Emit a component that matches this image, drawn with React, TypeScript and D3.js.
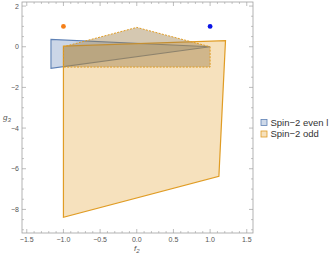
import React from 'react';
import * as d3 from 'd3';

// region vertices (f2, g3)
const evenL: [number, number][] = [[-1.17, 0.36], [-1.17, -1.06], [1.0, 0.0]];
const odd: [number, number][] = [[-1.0, 0.03], [1.21, 0.3], [1.12, -6.37], [-1.0, -8.39]];
const oddCap: [number, number][] = [[-1.0, -1.0], [-1.0, 0.0], [0.0, 0.95], [1.0, 0.0], [1.0, -1.0]];
const dots = [
  { x: -1, y: 1, color: '#f57f17' },
  { x: 1, y: 1, color: '#0a14e6' },
];
const xTicks = [-1.5, -1.0, -0.5, 0.0, 0.5, 1.0, 1.5];
const yTicks = [2, 0, -2, -4, -6, -8];
const legend = [
  { name: 'Spin\u22122 even l', stroke: '#5E81B5', fill: '#5E81B5' },
  { name: 'Spin\u22122 odd', stroke: '#E09C24', fill: '#E09C24' },
];

const W = 332, H = 258;
const left = 22, right = 253, top = 2, bottom = 233;

const fmt = (v: number, d: number) => v.toFixed(d).replace('-', '\u2212');

export default function App() {
  const x = d3.scaleLinear().domain([-1.565, 1.585]).range([left, right]);
  const y = d3.scaleLinear().domain([2.2, -9.16]).range([top, bottom]);
  const line = d3.line<[number, number]>().x(d => x(d[0])).y(d => y(d[1])).curve(d3.curveLinearClosed);

  const xMinor = d3.range(-15, 16).map(i => i / 10).filter(v => !xTicks.some(t => Math.abs(t - v) < 1e-6));
  const yMinor = d3.range(-18, 5).map(i => i / 2).filter(v => !yTicks.includes(v));
  const frame = '#a0a0a0';
  const tickText = '#555';

  return (
    <svg width={W} height={H} style={{ position: 'absolute', left: 0, top: 0 }} fontFamily="Liberation Sans, Arial, sans-serif">
      <rect x={0} y={0} width={W} height={H} fill="#fff" />
      {/* regions */}
      <path d={line(evenL) || ''} fill="#5E81B5" fillOpacity={0.32} stroke="#5E81B5" strokeWidth={1.1} />
      <path d={line(odd) || ''} fill="#E09C24" fillOpacity={0.3} stroke="#E09C24" strokeWidth={1.2} />
      <path d={line(oddCap) || ''} fill="#9a7c45" fillOpacity={0.42} stroke="#E09C24" strokeWidth={1} strokeDasharray="2,1.3" />
      {dots.map((p, i) => (
        <circle key={i} cx={x(p.x)} cy={y(p.y)} r={2.4} fill={p.color} />
      ))}
      {/* frame */}
      <rect x={left} y={top} width={right - left} height={bottom - top} fill="none" stroke={frame} strokeWidth={0.8} />
      {xTicks.map(t => (
        <g key={'xt' + t}>
          <line x1={x(t)} x2={x(t)} y1={bottom} y2={bottom - 4} stroke={frame} strokeWidth={0.7} />
          <line x1={x(t)} x2={x(t)} y1={top} y2={top + 4} stroke={frame} strokeWidth={0.7} />
          <text x={x(t)} y={bottom + 9} fontSize={7} fill={tickText} textAnchor="middle">{fmt(t, 1)}</text>
        </g>
      ))}
      {xMinor.map(t => (
        <g key={'xm' + t}>
          <line x1={x(t)} x2={x(t)} y1={bottom} y2={bottom - 2} stroke={frame} strokeWidth={0.6} />
          <line x1={x(t)} x2={x(t)} y1={top} y2={top + 2} stroke={frame} strokeWidth={0.6} />
        </g>
      ))}
      {yTicks.map(t => (
        <g key={'yt' + t}>
          <line x1={left} x2={left + 4} y1={y(t)} y2={y(t)} stroke={frame} strokeWidth={0.7} />
          <line x1={right} x2={right - 4} y1={y(t)} y2={y(t)} stroke={frame} strokeWidth={0.7} />
          <text x={left - 3} y={y(t) + 2.5} fontSize={7} fill={tickText} textAnchor="end">{fmt(t, 0)}</text>
        </g>
      ))}
      {yMinor.map(t => (
        <g key={'ym' + t}>
          <line x1={left} x2={left + 2} y1={y(t)} y2={y(t)} stroke={frame} strokeWidth={0.6} />
          <line x1={right} x2={right - 2} y1={y(t)} y2={y(t)} stroke={frame} strokeWidth={0.6} />
        </g>
      ))}
      {/* axis labels */}
      <text x={x(0)} y={251} fontSize={8} fill={tickText} textAnchor="middle" fontStyle="italic">
        f<tspan fontSize={6} dy={2}>2</tspan>
      </text>
      <text x={3} y={120} fontSize={8} fill={tickText} fontStyle="italic">
        g<tspan fontSize={6} dy={2}>3</tspan>
      </text>
      {/* legend */}
      {legend.map((l, i) => (
        <g key={l.name} transform={`translate(261,${119.5 + i * 11.5})`}>
          <rect x={0} y={0} width={6} height={6} fill={l.fill} fillOpacity={0.3} stroke={l.stroke} strokeWidth={0.8} />
          <text x={9.5} y={6.3} fontSize={9.5} fill="#333">{l.name}</text>
        </g>
      ))}
    </svg>
  );
}
